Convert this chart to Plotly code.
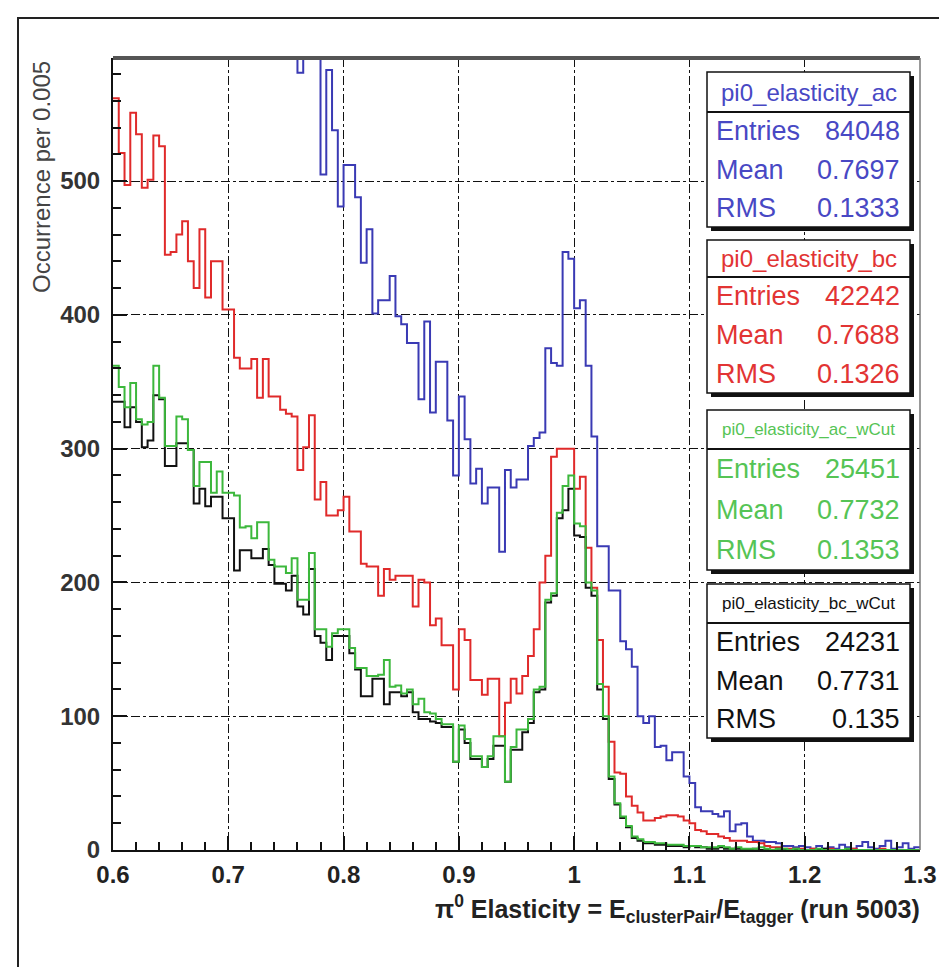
import numpy as np
import plotly.graph_objects as go

# Histogram binning: 140 bins of 0.005 between 0.6 and 1.3
x_low, x_high, bin_width = 0.6, 1.3, 0.005

# pi0_elasticity_ac (blue)
counts_ac = [
    1105, 1080, 1062, 1050, 1031, 1012, 1000, 985, 962, 948,
    930, 915, 897, 880, 866, 850, 833, 818, 802, 790,
    772, 760, 745, 731, 718, 702, 690, 676, 663, 650,
    641, 610, 581, 594, 612, 605, 505, 583, 538, 481,
    512, 512, 488, 439, 464, 401, 411, 411, 429, 399,
    393, 379, 379, 337, 395, 327, 365, 365, 321, 280,
    339, 307, 274, 285, 259, 271, 271, 223, 284, 271,
    277, 277, 302, 308, 312, 375, 364, 362, 447, 442,
    405, 411, 362, 309, 227, 227, 194, 194, 156, 150,
    137, 100, 95, 100, 77, 78, 67, 73, 73, 55,
    50, 32, 29, 29, 27, 25, 29, 14, 19, 20,
    10, 7, 7, 6, 6, 5, 3, 3, 2, 3,
    2, 1, 3, 1, 2, 1, 4, 2, 1, 3,
    6, 2, 1, 3, 7, 1, 2, 5, 1, 2,
]

# pi0_elasticity_bc (red)
counts_bc = [
    562, 521, 497, 551, 535, 495, 501, 534, 526, 445,
    447, 460, 470, 440, 420, 464, 413, 440, 440, 404,
    404, 368, 360, 360, 367, 338, 367, 339, 339, 329,
    326, 324, 284, 301, 325, 262, 275, 250, 250, 254,
    264, 238, 238, 214, 212, 212, 190, 210, 202, 205,
    205, 205, 182, 202, 200, 168, 173, 153, 153, 120,
    165, 157, 127, 127, 116, 128, 128, 85, 110, 128,
    117, 130, 145, 165, 200, 220, 294, 300, 300, 300,
    270, 279, 226, 196, 157, 122, 81, 58, 57, 40,
    33, 28, 22, 22, 24, 25, 26, 26, 25, 22,
    20, 15, 14, 12, 12, 10, 9, 7, 7, 7,
    6, 6, 5, 3, 2, 2, 1, 1, 1, 1,
    0, 1, 0, 0, 1, 0, 0, 0, 1, 0,
    0, 0, 0, 1, 0, 0, 0, 0, 0, 0,
]

# pi0_elasticity_ac_wCut (green)
counts_ac_wcut = [
    362, 346, 331, 349, 322, 318, 320, 362, 338, 302,
    302, 324, 322, 299, 272, 290, 290, 267, 283, 267,
    267, 265, 241, 242, 233, 245, 245, 217, 212, 212,
    207, 218, 187, 187, 222, 165, 165, 152, 162, 165,
    165, 151, 136, 136, 130, 130, 131, 142, 122, 123,
    117, 120, 109, 113, 103, 102, 98, 94, 94, 66,
    93, 83, 70, 70, 62, 70, 85, 85, 51, 77,
    90, 90, 98, 120, 122, 187, 192, 252, 272, 280,
    244, 242, 200, 194, 124, 100, 55, 35, 25, 18,
    10, 8, 6, 6, 5, 5, 4, 4, 4, 3,
    3, 3, 2, 2, 2, 3, 2, 1, 2, 1,
    1, 1, 2, 1, 0, 1, 1, 0, 1, 0,
    0, 0, 1, 0, 0, 0, 0, 1, 0, 0,
    0, 0, 0, 0, 0, 0, 0, 0, 0, 0,
]

# pi0_elasticity_bc_wCut (black)
counts_bc_wcut = [
    335, 335, 316, 331, 320, 301, 306, 340, 337, 287,
    287, 304, 304, 299, 259, 270, 257, 264, 264, 248,
    248, 209, 224, 224, 218, 218, 225, 213, 199, 199,
    194, 205, 182, 176, 210, 160, 155, 142, 160, 160,
    160, 147, 135, 115, 115, 128, 128, 109, 118, 118,
    115, 118, 103, 98, 98, 96, 95, 92, 92, 66,
    90, 80, 68, 68, 62, 68, 78, 78, 51, 75,
    75, 88, 95, 118, 120, 185, 190, 248, 254, 270,
    235, 234, 196, 190, 120, 98, 53, 34, 24, 17,
    9, 7, 5, 5, 4, 4, 3, 3, 3, 2,
    3, 2, 2, 1, 1, 2, 1, 1, 1, 0,
    0, 1, 0, 0, 0, 1, 0, 0, 0, 0,
    0, 0, 0, 1, 0, 0, 0, 0, 0, 0,
    0, 0, 0, 0, 0, 0, 0, 0, 0, 0,
]

# Statistics boxes
stat_titles = ["pi0_elasticity_ac", "pi0_elasticity_bc",
               "pi0_elasticity_ac_wCut", "pi0_elasticity_bc_wCut"]
stat_entries = ["84048", "42242", "25451", "24231"]
stat_means = ["0.7697", "0.7688", "0.7732", "0.7731"]
stat_rms = ["0.1333", "0.1326", "0.1353", "0.135"]

x_ticks = [0.6, 0.7, 0.8, 0.9, 1.0, 1.1, 1.2, 1.3]
y_ticks = [0, 100, 200, 300, 400, 500]

line_colors = ["#3a3ab4", "#e02a2a", "#3cb83c", "#111111"]
text_colors = ["#4848c4", "#e23434", "#55c455", "#111111"]

# ---------------------------------------------------------------------------
W, H = 939, 967
ML, MR, MT, MB = 113, 19, 58, 117
PW, PH = W - ML - MR, H - MT - MB


def px_x(px):
    return (px - ML) / PW


def px_y(py):
    return (H - MB - py) / PH


FONT = "Liberation Sans, Arial, Helvetica, sans-serif"

n_bins = len(counts_ac)
edges = x_low + bin_width * np.arange(n_bins + 1)

fig = go.Figure()
for counts, color in [(counts_ac, line_colors[0]), (counts_bc, line_colors[1]),
                      (counts_bc_wcut, line_colors[3]), (counts_ac_wcut, line_colors[2])]:
    y = list(counts) + [counts[-1]]
    fig.add_trace(go.Scatter(
        x=edges, y=y, mode="lines",
        line=dict(shape="hv", color=color, width=2),
        hoverinfo="skip", showlegend=False,
    ))

shapes = []
annotations = []

# Stat boxes (top, title separator, bottom) in pixels
box_rows = [(72, 112, 227), (240, 277, 393), (410, 449, 570), (584, 623, 738)]
bx0, bx1 = 707, 910
title_sizes = [24, 24, 17, 17]
for i, (top, sep, bot) in enumerate(box_rows):
    shapes.append(dict(type="rect", xref="paper", yref="paper",
                       x0=px_x(bx0 + 4), x1=px_x(bx1 + 4), y0=px_y(bot + 4), y1=px_y(top + 4),
                       fillcolor="#111", line=dict(width=0), layer="above"))
    shapes.append(dict(type="rect", xref="paper", yref="paper",
                       x0=px_x(bx0), x1=px_x(bx1), y0=px_y(bot), y1=px_y(top),
                       fillcolor="white", line=dict(color="#111", width=1.5), layer="above"))
    shapes.append(dict(type="line", xref="paper", yref="paper",
                       x0=px_x(bx0), x1=px_x(bx1), y0=px_y(sep), y1=px_y(sep),
                       line=dict(color="#111", width=2), layer="above"))
    c = text_colors[i]
    annotations.append(dict(text=stat_titles[i], xref="paper", yref="paper",
                            x=px_x((bx0 + bx1) / 2), y=px_y((top + sep) / 2),
                            xanchor="center", yanchor="middle", showarrow=False,
                            font=dict(family=FONT, size=title_sizes[i], color=c)))
    row_h = (bot - sep) / 3
    for j, (lab, val) in enumerate([("Entries", stat_entries[i]),
                                    ("Mean", stat_means[i]),
                                    ("RMS", stat_rms[i])]):
        yc = px_y(sep + row_h * (j + 0.5))
        annotations.append(dict(text=lab, xref="paper", yref="paper",
                                x=px_x(bx0 + 7), y=yc, xanchor="left", yanchor="middle",
                                showarrow=False,
                                font=dict(family=FONT, size=27, color=c)))
        annotations.append(dict(text=val, xref="paper", yref="paper",
                                x=px_x(bx1 - 8), y=yc, xanchor="right", yanchor="middle",
                                showarrow=False,
                                font=dict(family=FONT, size=27, color=c)))

# Top and right frame edges
shapes.append(dict(type="line", xref="paper", yref="paper", x0=0, x1=1, y0=1, y1=1,
                   line=dict(color="#555", width=4)))
shapes.append(dict(type="line", xref="paper", yref="paper", x0=1, x1=1, y0=0, y1=1,
                   line=dict(color="#777", width=1.5)))
# Canvas border
shapes.append(dict(type="rect", xref="paper", yref="paper",
                   x0=px_x(18), x1=px_x(960), y0=px_y(990), y1=px_y(18),
                   line=dict(color="#222", width=2), fillcolor="rgba(0,0,0,0)"))

annotations.append(dict(
    text="π<sup>0</sup> Elasticity = E<sub>clusterPair</sub>/E<sub>tagger</sub> (run 5003)",
    xref="paper", yref="paper", x=px_x(922), y=px_y(909), xanchor="right", yanchor="middle",
    showarrow=False, font=dict(family=FONT, size=25, color="#222", weight="bold")))
annotations.append(dict(
    text="Occurrence per 0.005", xref="paper", yref="paper", textangle=-90,
    x=px_x(41), y=px_y(59), xanchor="center", yanchor="top", showarrow=False,
    font=dict(family=FONT, size=24, color="#444")))

fig.update_layout(
    width=W, height=H, margin=dict(l=ML, r=MR, t=MT, b=MB, autoexpand=False),
    paper_bgcolor="white", plot_bgcolor="white",
    xaxis=dict(range=[x_low, x_high], tickvals=x_ticks, ticks="inside", ticklen=14,
               tickwidth=1.5, tickcolor="#111", showline=True, linecolor="#111", linewidth=2,
               showgrid=True, gridcolor="#111", gridwidth=1, griddash="dashdot",
               zeroline=False, automargin=False, ticklabeloverflow="allow",
               ticklabelstandoff=2,
               minor=dict(dtick=0.02, tick0=0.6, ticks="inside", ticklen=8, tickwidth=1.5,
                          tickcolor="#111", showgrid=False),
               tickfont=dict(family=FONT, size=24, color="#222", weight="bold")),
    yaxis=dict(range=[0, 592], tickvals=y_ticks, ticks="inside", ticklen=14,
               tickwidth=1.5, tickcolor="#111", showline=True, linecolor="#111", linewidth=2,
               showgrid=True, gridcolor="#111", gridwidth=1, griddash="dashdot",
               zeroline=False, automargin=False, ticklabeloverflow="allow",
               ticklabelstandoff=6,
               minor=dict(dtick=20, tick0=0, ticks="inside", ticklen=8, tickwidth=1.5,
                          tickcolor="#111", showgrid=False),
               tickfont=dict(family=FONT, size=24, color="#333", weight="bold")),
    shapes=shapes, annotations=annotations,
)

fig.write_html("out.html")
